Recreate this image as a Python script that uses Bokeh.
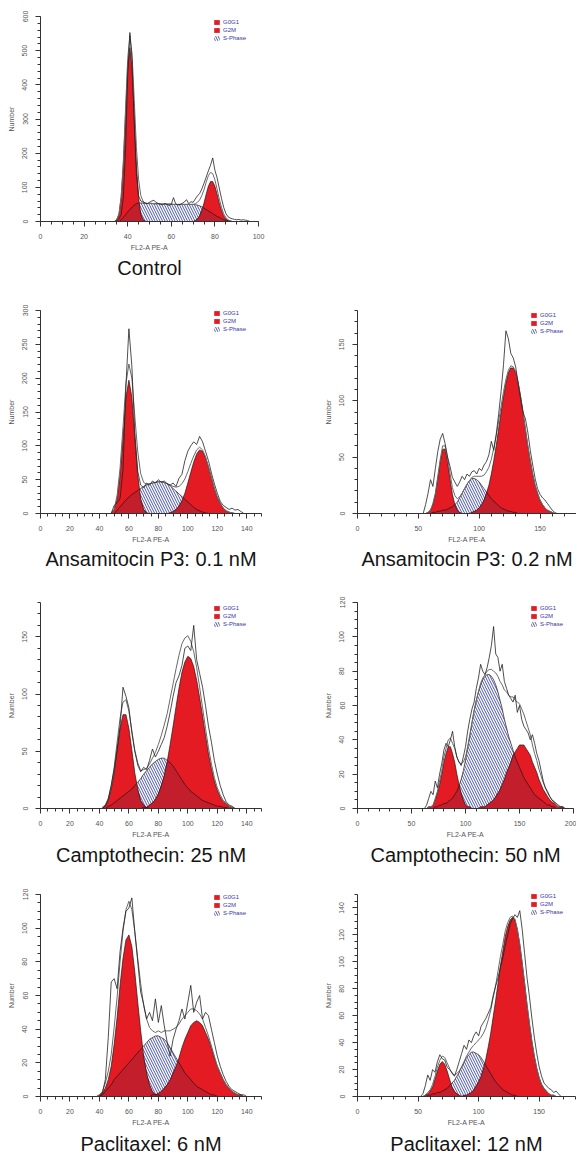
import numpy as np
from bokeh.plotting import figure
from bokeh.models import Range1d, FixedTicker, Legend, LegendItem, Spacer, Title
from bokeh.layouts import row, column
from bokeh.embed import file_html
from bokeh.resources import INLINE

# ---------------- data ----------------
# Control (FL2-A bins 34..96, step 1)
control_x = list(range(34, 97))
control_hist = [0, 2, 8, 20, 70, 210, 430, 553, 470, 290,
                140, 75, 60, 57, 54, 52, 56, 60, 62, 56,
                53, 50, 49, 53, 50, 47, 50, 70, 52, 48,
                50, 53, 57, 64, 52, 58, 56, 66, 75, 82,
                95, 112, 130, 148, 165, 186, 150, 128, 98, 68,
                42, 24, 14, 10, 8, 6, 5, 6, 4, 5,
                4, 3, 0]
control_g0g1 = [1, 6, 22, 69, 165, 309, 449, 509, 449, 309,
                165, 69, 22, 6, 1, 0, 0, 0, 0, 0,
                0, 0, 0, 0, 0, 0, 0, 0, 0, 0,
                0, 0, 0, 0, 0, 0, 0, 0, 0, 0,
                0, 0, 0, 0, 0, 0, 0, 0, 0, 0,
                0, 0, 0, 0, 0, 0, 0, 0, 0, 0,
                0, 0, 0]
control_s = [0, 0, 0, 5, 12, 20, 28, 35, 42, 48,
             52, 54, 54, 54, 53, 53, 53, 53, 52, 52,
             52, 52, 51, 51, 51, 51, 51, 50, 50, 50,
             50, 50, 50, 50, 50, 50, 50, 49, 48, 46,
             43, 39, 35, 31, 27, 23, 19, 15, 12, 9,
             6, 4, 2, 1, 0, 0, 0, 0, 0, 0,
             0, 0, 0]
control_g2m = [0, 0, 0, 0, 0, 0, 0, 0, 0, 0,
               0, 0, 0, 0, 0, 0, 0, 0, 0, 0,
               0, 0, 0, 0, 0, 0, 0, 0, 0, 0,
               0, 0, 0, 0, 0, 0, 0, 3, 8, 17,
               33, 54, 80, 103, 117, 117, 103, 80, 54, 33,
               17, 8, 3, 1, 0, 0, 0, 0, 0, 0,
               0, 0, 0]

# Ansamitocin P3 0.1 nM (bins 48..138, step 2)
ansa1_x = list(range(48, 140, 2))
ansa1_hist = [0, 12, 16, 22, 65, 190, 273, 218, 120, 62,
              42, 38, 45, 42, 48, 45, 50, 46, 48, 44,
              42, 45, 40, 52, 58, 78, 92, 100, 106, 102,
              114, 106, 92, 78, 60, 44, 30, 18, 12, 9,
              6, 8, 5, 6, 3, 0]
ansa1_g0g1 = [1, 6, 22, 57, 113, 172, 197, 172, 113, 57,
              22, 6, 1, 0, 0, 0, 0, 0, 0, 0,
              0, 0, 0, 0, 0, 0, 0, 0, 0, 0,
              0, 0, 0, 0, 0, 0, 0, 0, 0, 0,
              0, 0, 0, 0, 0, 0]
ansa1_s = [0, 0, 5, 10, 15, 20, 24, 28, 31, 34,
           37, 40, 42, 44, 45, 46, 47, 47, 46, 44,
           41, 37, 33, 29, 25, 21, 17, 13, 9, 6,
           4, 2, 1, 0, 0, 0, 0, 0, 0, 0,
           0, 0, 0, 0, 0, 0]
ansa1_g2m = [0, 0, 0, 0, 0, 0, 0, 0, 0, 0,
             0, 0, 0, 0, 0, 0, 0, 0, 0, 0,
             1, 3, 6, 11, 19, 30, 45, 61, 76, 88,
             94, 92, 83, 69, 53, 37, 24, 15, 8, 4,
             2, 1, 0, 0, 0, 0]

# Ansamitocin P3 0.2 nM (bins 54..164, step 2)
ansa2_x = list(range(54, 166, 2))
ansa2_hist = [0, 8, 18, 30, 24, 40, 55, 66, 71, 62,
              50, 42, 32, 28, 24, 28, 33, 30, 35, 33,
              37, 38, 35, 40, 38, 43, 46, 52, 64, 56,
              70, 88, 108, 132, 162, 155, 142, 138, 130, 116,
              102, 90, 84, 72, 56, 43, 31, 22, 17, 14,
              12, 9, 6, 3, 1, 0]
ansa2_g0g1 = [0, 0, 1, 3, 8, 17, 31, 46, 57, 57,
              46, 31, 17, 8, 3, 1, 0, 0, 0, 0,
              0, 0, 0, 0, 0, 0, 0, 0, 0, 0,
              0, 0, 0, 0, 0, 0, 0, 0, 0, 0,
              0, 0, 0, 0, 0, 0, 0, 0, 0, 0,
              0, 0, 0, 0, 0, 0]
ansa2_s = [0, 0, 0, 0, 1, 1, 2, 2, 3, 3,
           4, 5, 6, 8, 10, 14, 18, 22, 26, 29,
           31, 31, 30, 28, 25, 22, 19, 16, 13, 11,
           9, 7, 5, 4, 3, 2, 2, 1, 1, 0,
           0, 0, 0, 0, 0, 0, 0, 0, 0, 0,
           0, 0, 0, 0, 0, 0]
ansa2_g2m = [0, 0, 0, 0, 0, 0, 0, 0, 0, 0,
             0, 0, 0, 0, 0, 0, 0, 0, 0, 0,
             1, 2, 3, 5, 8, 12, 18, 25, 35, 47,
             60, 75, 90, 104, 116, 125, 129, 129, 125, 116,
             104, 90, 75, 60, 47, 35, 25, 18, 12, 8,
             5, 3, 2, 1, 0, 0]

# Camptothecin 25 nM (bins 42..134, step 2)
campto25_x = list(range(42, 136, 2))
campto25_hist = [0, 2, 8, 20, 34, 52, 72, 106, 98, 88,
                 66, 50, 38, 32, 36, 34, 42, 52, 45, 50,
                 56, 62, 72, 84, 98, 110, 116, 125, 140, 142,
                 138, 160, 130, 118, 106, 90, 72, 58, 42, 30,
                 20, 12, 6, 3, 2, 0, 0]
campto25_g0g1 = [1, 3, 7, 17, 31, 51, 70, 82, 82, 70,
                 51, 31, 17, 7, 3, 1, 0, 0, 0, 0,
                 0, 0, 0, 0, 0, 0, 0, 0, 0, 0,
                 0, 0, 0, 0, 0, 0, 0, 0, 0, 0,
                 0, 0, 0, 0, 0, 0, 0]
campto25_s = [0, 0, 2, 3, 5, 7, 9, 11, 13, 15,
              17, 20, 23, 26, 30, 33, 36, 39, 41, 43,
              44, 44, 42, 40, 37, 33, 29, 25, 21, 18,
              15, 13, 11, 9, 7, 6, 5, 4, 3, 2,
              2, 1, 1, 0, 0, 0, 0]
campto25_g2m = [0, 0, 0, 0, 0, 0, 0, 0, 0, 0,
                0, 0, 0, 0, 1, 1, 3, 5, 8, 13,
                20, 29, 41, 56, 72, 89, 105, 119, 128, 133,
                131, 124, 112, 97, 81, 64, 48, 35, 24, 16,
                10, 6, 4, 2, 1, 0, 0]

# Camptothecin 50 nM (bins 62..194, step 2)
campto50_x = list(range(62, 196, 2))
campto50_hist = [0, 2, 6, 10, 8, 16, 12, 20, 26, 34,
                 38, 36, 40, 45, 36, 30, 27, 25, 30, 36,
                 45, 52, 58, 62, 70, 76, 84, 80, 78, 82,
                 88, 95, 106, 90, 88, 80, 84, 74, 70, 66,
                 64, 62, 66, 56, 60, 52, 48, 46, 44, 40,
                 43, 38, 32, 28, 22, 16, 12, 10, 7, 5,
                 4, 3, 2, 1, 1, 0, 0]
campto50_g0g1 = [0, 0, 1, 1, 2, 5, 9, 14, 20, 27,
                 32, 36, 36, 32, 27, 20, 14, 9, 5, 2,
                 1, 1, 0, 0, 0, 0, 0, 0, 0, 0,
                 0, 0, 0, 0, 0, 0, 0, 0, 0, 0,
                 0, 0, 0, 0, 0, 0, 0, 0, 0, 0,
                 0, 0, 0, 0, 0, 0, 0, 0, 0, 0,
                 0, 0, 0, 0, 0, 0, 0]
campto50_s = [0, 0, 0, 0, 0, 1, 1, 2, 2, 3,
              3, 4, 5, 6, 8, 10, 13, 17, 22, 28,
              35, 42, 50, 57, 63, 68, 72, 75, 77, 78,
              78, 77, 75, 72, 68, 63, 58, 52, 47, 42,
              38, 34, 30, 27, 24, 21, 18, 16, 14, 12,
              10, 8, 7, 6, 5, 4, 3, 2, 2, 1,
              1, 0, 0, 0, 0, 0, 0]
campto50_g2m = [0, 0, 0, 0, 0, 0, 0, 0, 0, 0,
                0, 0, 0, 0, 0, 0, 0, 0, 0, 0,
                0, 0, 0, 0, 0, 0, 1, 1, 1, 2,
                3, 4, 5, 7, 9, 11, 14, 17, 21, 24,
                27, 31, 33, 35, 37, 37, 37, 35, 33, 31,
                27, 24, 21, 17, 14, 11, 9, 7, 5, 4,
                3, 2, 1, 1, 1, 0, 0]

# Paclitaxel 6 nM (bins 38..144, step 2)
pacli6_x = list(range(38, 146, 2))
pacli6_hist = [0, 0, 2, 10, 35, 68, 70, 64, 86, 100,
               110, 112, 118, 98, 80, 62, 55, 46, 50, 45,
               58, 44, 54, 42, 32, 24, 34, 40, 45, 52,
               46, 56, 66, 50, 56, 60, 46, 50, 48, 40,
               32, 24, 18, 13, 9, 6, 4, 3, 2, 1,
               1, 0, 0, 0]
pacli6_g0g1 = [0, 1, 2, 5, 10, 18, 31, 47, 66, 82,
               93, 96, 89, 74, 56, 39, 24, 14, 7, 3,
               1, 1, 0, 0, 0, 0, 0, 0, 0, 0,
               0, 0, 0, 0, 0, 0, 0, 0, 0, 0,
               0, 0, 0, 0, 0, 0, 0, 0, 0, 0,
               0, 0, 0, 0]
pacli6_s = [0, 0, 1, 3, 5, 7, 10, 12, 14, 16,
            18, 20, 22, 24, 26, 28, 30, 32, 34, 35,
            36, 36, 35, 34, 32, 29, 26, 23, 20, 17,
            14, 12, 10, 8, 6, 5, 4, 3, 2, 1,
            1, 0, 0, 0, 0, 0, 0, 0, 0, 0,
            0, 0, 0, 0]
pacli6_g2m = [0, 0, 0, 0, 0, 0, 0, 0, 0, 0,
              0, 0, 0, 0, 0, 0, 0, 0, 0, 1,
              1, 2, 3, 5, 7, 10, 14, 18, 23, 29,
              34, 38, 42, 44, 45, 44, 42, 38, 34, 29,
              23, 18, 14, 10, 7, 5, 3, 2, 1, 1,
              0, 0, 0, 0]

# Paclitaxel 12 nM (bins 50..172, step 2)
pacli12_x = list(range(50, 174, 2))
pacli12_hist = [0, 0, 2, 8, 16, 12, 20, 18, 26, 31,
                28, 27, 22, 20, 18, 15, 20, 26, 32, 38,
                35, 42, 40, 45, 48, 45, 52, 55, 58, 62,
                66, 75, 82, 88, 96, 103, 112, 120, 128, 132,
                135, 133, 138, 124, 106, 88, 74, 58, 44, 32,
                22, 15, 10, 8, 6, 5, 3, 4, 2, 0,
                0, 0]
pacli12_g0g1 = [0, 0, 0, 1, 2, 4, 7, 13, 19, 24,
                26, 24, 19, 13, 7, 4, 2, 1, 0, 0,
                0, 0, 0, 0, 0, 0, 0, 0, 0, 0,
                0, 0, 0, 0, 0, 0, 0, 0, 0, 0,
                0, 0, 0, 0, 0, 0, 0, 0, 0, 0,
                0, 0, 0, 0, 0, 0, 0, 0, 0, 0,
                0, 0]
pacli12_s = [0, 0, 0, 0, 1, 1, 2, 2, 3, 3,
             4, 5, 6, 8, 10, 12, 15, 18, 22, 25,
             29, 31, 33, 33, 32, 31, 29, 26, 23, 20,
             17, 14, 11, 9, 7, 5, 4, 3, 2, 1,
             1, 0, 0, 0, 0, 0, 0, 0, 0, 0,
             0, 0, 0, 0, 0, 0, 0, 0, 0, 0,
             0, 0]
pacli12_g2m = [0, 0, 0, 0, 0, 0, 0, 0, 0, 0,
               0, 0, 0, 0, 0, 0, 0, 0, 0, 1,
               1, 2, 3, 5, 8, 11, 15, 21, 28, 37,
               47, 59, 71, 84, 97, 108, 119, 126, 131, 133,
               131, 124, 113, 99, 84, 68, 54, 41, 30, 21,
               14, 9, 6, 4, 2, 1, 1, 0, 0, 0,
               0, 0]

legend_labels = ["G0G1", "G2M", "S-Phase"]
x_axis_label = "FL2-A PE-A"
y_axis_label = "Number"

# ---------------- styling ----------------
RED = "#e41b23"
DARK_RED = "#c21e2b"
HATCH = "#4b57a3"
FONT = "Liberation Sans"
AX = "#333333"


def panel(title, x, hist, g1, s, g2, xmax, ymax, xmaj, xminor, ymaj, yminor,
          width, height, bl, br, bt, bb, title_standoff):
    fw = width - bl - br
    fh = height - bt - bb
    p = figure(width=width, height=height, x_range=Range1d(0, xmax), y_range=Range1d(0, ymax),
               output_backend="svg", toolbar_location=None, title=None,
               min_border_left=bl, min_border_right=br, min_border_top=bt, min_border_bottom=bb)
    p.outline_line_color = None
    p.xgrid.visible = False
    p.ygrid.visible = False
    p.background_fill_color = "white"

    p.xaxis.ticker = FixedTicker(ticks=list(range(0, xmax + 1, xmaj)),
                                 minor_ticks=list(range(0, xmax + 1, xminor)))
    p.yaxis.ticker = FixedTicker(ticks=list(range(0, ymax + 1, ymaj)),
                                 minor_ticks=list(range(0, ymax + 1, yminor)))
    for ax in (p.xaxis[0], p.yaxis[0]):
        ax.axis_line_color = AX
        ax.axis_line_width = 1
        ax.major_tick_line_color = AX
        ax.minor_tick_line_color = AX
        ax.major_tick_out = 5
        ax.major_tick_in = 0
        ax.minor_tick_out = 3
        ax.minor_tick_in = 0
        ax.major_label_text_font = FONT
        ax.major_label_text_font_size = "7px"
        ax.major_label_text_color = "#555555"
        ax.axis_label_text_font = FONT
        ax.axis_label_text_font_size = "7px"
        ax.axis_label_text_font_style = "normal"
        ax.axis_label_text_color = "#555555"
    p.yaxis.major_label_orientation = "vertical"
    p.xaxis.major_label_standoff = 7
    p.yaxis.major_label_standoff = 8
    p.xaxis.axis_label = x_axis_label
    p.yaxis.axis_label = y_axis_label
    p.xaxis.axis_label_standoff = 2
    p.yaxis.axis_label_standoff = 5

    xa = np.array(x, dtype=float)
    ha = np.array(hist, dtype=float)
    g1a = np.array(g1, dtype=float)
    sa = np.array(s, dtype=float)
    g2a = np.array(g2, dtype=float)
    fit = g1a + sa + g2a

    rs = p.varea(x=xa, y1=0, y2=sa, fill_color="white", hatch_pattern="\\",
                 hatch_color=HATCH, hatch_scale=5, hatch_weight=1)
    r1 = p.varea(x=xa, y1=0, y2=g1a, fill_color=RED)
    r2 = p.varea(x=xa, y1=0, y2=g2a, fill_color=RED)
    p.varea(x=xa, y1=0, y2=np.minimum(sa, g1a), fill_color=DARK_RED)
    p.varea(x=xa, y1=0, y2=np.minimum(sa, g2a), fill_color=DARK_RED)
    for yy in (sa, g1a, g2a):
        p.line(xa, yy, line_color="#2a1212", line_width=0.7)
    p.line(xa, fit, line_color="#6a6a6a", line_width=1.0)
    p.line(xa, ha, line_color="#222222", line_width=0.8)

    leg = Legend(items=[LegendItem(label=legend_labels[0], renderers=[r1]),
                        LegendItem(label=legend_labels[1], renderers=[r2]),
                        LegendItem(label=legend_labels[2], renderers=[rs])],
                 location=(173, fh - 26), orientation="vertical",
                 background_fill_alpha=0, border_line_alpha=0, padding=0, margin=0, spacing=0,
                 glyph_width=7, glyph_height=6, label_height=8, label_standoff=3,
                 label_text_font=FONT, label_text_font_size="6px", label_text_color="#3535a8")
    p.add_layout(leg)

    p.add_layout(Title(text=title, align="center", text_font=FONT, text_font_size="20px",
                       text_font_style="normal", text_color="#151515", standoff=title_standoff),
                 "below")
    return p


# page has no margin: canvas pixels equal reference pixels
p_control = panel("Control", control_x, control_hist, control_g0g1, control_s, control_g2m,
                  100, 600, 20, 5, 100, 20, 290, 288, 40, 32, 16, 67, 2)
p_ansa1 = panel("Ansamitocin P3: 0.1 nM", ansa1_x, ansa1_hist, ansa1_g0g1, ansa1_s, ansa1_g2m,
                150, 300, 20, 5, 50, 10, 290, 297, 40, 29, 19, 72, 1)
p_ansa2 = panel("Ansamitocin P3: 0.2 nM", ansa2_x, ansa2_hist, ansa2_g0g1, ansa2_s, ansa2_g2m,
                180, 180, 50, 10, 50, 10, 286, 297, 67, 0, 22, 71, 1)
p_c25 = panel("Camptothecin: 25 nM", campto25_x, campto25_hist, campto25_g0g1, campto25_s, campto25_g2m,
              150, 180, 20, 5, 50, 10, 290, 287, 40, 29, 17, 64, 2)
p_c50 = panel("Camptothecin: 50 nM", campto50_x, campto50_hist, campto50_g0g1, campto50_s, campto50_g2m,
              200, 120, 50, 10, 20, 5, 286, 287, 67, 3, 17, 64, 2)
p_p6 = panel("Paclitaxel: 6 nM", pacli6_x, pacli6_hist, pacli6_g0g1, pacli6_s, pacli6_g2m,
             150, 120, 20, 5, 20, 5, 290, 284, 40, 29, 22, 57, 4)
p_p12 = panel("Paclitaxel: 12 nM", pacli12_x, pacli12_hist, pacli12_g0g1, pacli12_s, pacli12_g2m,
              180, 150, 50, 10, 20, 5, 286, 284, 67, 1, 21, 57, 4)

layout = column(
    row(p_control, Spacer(width=286, height=288)),
    row(p_ansa1, p_ansa2),
    row(p_c25, p_c50),
    row(p_p6, p_p12),
)

open("out.html", "w").write(file_html(layout, INLINE))
